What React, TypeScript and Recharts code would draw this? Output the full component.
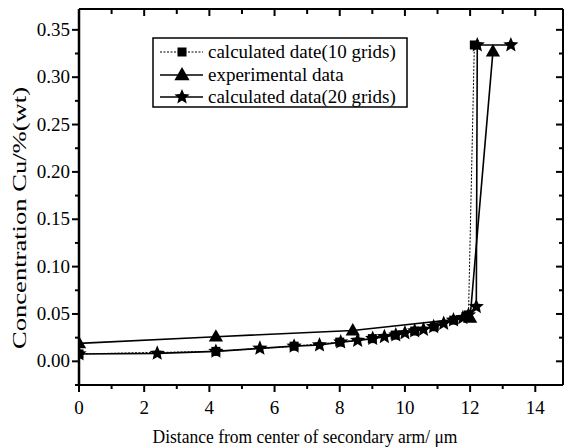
import React from 'react';
import { LineChart, Line, XAxis, YAxis, Legend } from 'recharts';

// calculated date (10 grids) - squares, dotted line
const grid10X = [0, 4.2, 6.6, 8.0, 9.0, 9.7, 10.3, 10.9, 11.5, 11.95, 12.13];
const grid10Y = [0.0078, 0.0105, 0.016, 0.0203, 0.024, 0.0277, 0.032, 0.0365, 0.0435, 0.049, 0.334];

// experimental data - triangles
const expX = [0, 4.2, 8.4, 12.0, 12.7];
const expY = [0.019, 0.026, 0.0325, 0.046, 0.327];

// calculated data (20 grids) - stars
const grid20X = [0, 2.4, 4.2, 5.55, 6.6, 7.38, 8.03, 8.55, 9.01, 9.37, 9.72, 10.0, 10.3, 10.57, 10.88, 11.19, 11.49, 11.78, 11.95, 12.19, 12.22, 13.25];
const grid20Y = [0.0078, 0.0084, 0.0105, 0.0137, 0.016, 0.0172, 0.0203, 0.022, 0.024, 0.026, 0.0277, 0.030, 0.032, 0.0337, 0.0365, 0.040, 0.0435, 0.046, 0.049, 0.0577, 0.334, 0.334];

const xTicks = [0, 1, 2, 3, 4, 5, 6, 7, 8, 9, 10, 11, 12, 13, 14];
const xLabelTicks = [0, 2, 4, 6, 8, 10, 12, 14];
const yTicks = [-0.025, 0, 0.025, 0.05, 0.075, 0.1, 0.125, 0.15, 0.175, 0.2, 0.225, 0.25, 0.275, 0.3, 0.325, 0.35];
const yLabelTicks = [0, 0.05, 0.1, 0.15, 0.2, 0.25, 0.3, 0.35];

const seriesNames = ['calculated date(10 grids)', 'experimental data', 'calculated data(20 grids)'];

const zip = (xs: number[], ys: number[]) => xs.map((x, i) => ({ x, y: ys[i] }));
const data10 = zip(grid10X, grid10Y);
const dataExp = zip(expX, expY);
const data20 = zip(grid20X, grid20Y);

const FONT = "'Liberation Serif', 'DejaVu Serif', serif";

const isMajorX = (v: number) => xLabelTicks.some((t) => Math.abs(t - v) < 1e-6);
const isMajorY = (v: number) => yLabelTicks.some((t) => Math.abs(t - v) < 1e-6);

const BottomTick = (props: any) => {
  const { x, y, payload } = props;
  const major = isMajorX(payload.value);
  return (
    <g>
      <line x1={x} y1={y} x2={x} y2={y + (major ? 7 : 4)} stroke="#000" strokeWidth={2} />
      {major && (
        <text x={x} y={y + 29} textAnchor="middle" fontFamily={FONT} fontSize={19} fill="#000">
          {payload.value}
        </text>
      )}
    </g>
  );
};

const TopTick = (props: any) => {
  const { x, y, payload } = props;
  const major = isMajorX(payload.value);
  return <line x1={x} y1={y} x2={x} y2={y + (major ? 7 : 5)} stroke="#000" strokeWidth={2} />;
};

const LeftTick = (props: any) => {
  const { x, y, payload } = props;
  const major = isMajorY(payload.value);
  return (
    <g>
      <line x1={x} y1={y} x2={x - (major ? 7 : 4)} y2={y} stroke="#000" strokeWidth={2} />
      {major && (
        <text x={x - 9} y={y + 6} textAnchor="end" fontFamily={FONT} fontSize={19} fill="#000">
          {payload.value.toFixed(2)}
        </text>
      )}
    </g>
  );
};

const RightTick = (props: any) => {
  const { x, y, payload } = props;
  const major = isMajorY(payload.value);
  return <line x1={x} y1={y} x2={x - (major ? 7 : 4)} y2={y} stroke="#000" strokeWidth={2} />;
};

const starPath = (cx: number, cy: number, ro: number, ri: number) => {
  let d = '';
  for (let i = 0; i < 10; i++) {
    const r = i % 2 === 0 ? ro : ri;
    const a = -Math.PI / 2 + (i * Math.PI) / 5;
    d += (i === 0 ? 'M' : 'L') + (cx + r * Math.cos(a)).toFixed(2) + ',' + (cy + r * Math.sin(a)).toFixed(2);
  }
  return d + 'Z';
};

const Star = ({ cx, cy, size = 8 }: any) => <path d={starPath(cx, cy, size, size * 0.45)} fill="#000" />;
const Tri = ({ cx, cy, size = 7.5 }: any) => (
  <path d={`M${cx},${cy - size}L${cx + size * 0.95},${cy + size * 0.65}L${cx - size * 0.95},${cy + size * 0.65}Z`} fill="#000" />
);
const Sq = ({ cx, cy, size = 4.5 }: any) => <rect x={cx - size} y={cy - size} width={size * 2} height={size * 2} fill="#000" />;

const LegendBox = () => (
  <svg width={256} height={71} style={{ display: 'block' }}>
    <rect x={1} y={1} width={254} height={69} fill="#fff" stroke="#000" strokeWidth={1.5} />
    <line x1={8} y1={15} x2={51} y2={15} stroke="#000" strokeWidth={1} strokeDasharray="2 1.5" />
    <Sq cx={30} cy={15} />
    <text x={56} y={21} fontFamily={FONT} fontSize={19} fill="#000">{seriesNames[0]}</text>
    <line x1={8} y1={38} x2={51} y2={38} stroke="#000" strokeWidth={1.6} />
    <Tri cx={30} cy={38} size={8} />
    <text x={56} y={44} fontFamily={FONT} fontSize={19} fill="#000">{seriesNames[1]}</text>
    <line x1={8} y1={60} x2={51} y2={60} stroke="#000" strokeWidth={1.6} />
    <Star cx={30} cy={60} size={8} />
    <text x={56} y={66} fontFamily={FONT} fontSize={19} fill="#000">{seriesNames[2]}</text>
  </svg>
);

const YLabel = () => {
  const cx = 20;
  const cy = 218;
  return (
    <text
      x={cx}
      y={cy}
      transform={`rotate(-90, ${cx}, ${cy})`}
      textAnchor="middle"
      dominantBaseline="central"
      fontFamily={FONT}
      fontSize={18}
      textLength={262}
      lengthAdjust="spacingAndGlyphs"
      fill="#000"
    >
      Concentration Cu/%(wt)
    </text>
  );
};

const XLabel = () => (
  <text x={305} y={443} textAnchor="middle" fontFamily={FONT} fontSize={18} textLength={305} lengthAdjust="spacingAndGlyphs" fill="#000">
    Distance from center of secondary arm/ μm
  </text>
);

export default function App() {
  return (
    <div style={{ position: 'absolute', left: 0, top: 0, width: 566, height: 447, background: '#fff', fontFamily: FONT }}>
      <LineChart width={566} height={447} margin={{ top: 0, right: 0, bottom: 0, left: 0 }}>
        <XAxis
          xAxisId="b"
          type="number"
          dataKey="x"
          orientation="bottom"
          domain={[0, 14.85]}
          ticks={xTicks}
          interval={0}
          allowDataOverflow
          height={62}
          tickSize={0}
          tickMargin={0}
          tickLine={false}
          axisLine={{ stroke: '#000', strokeWidth: 2 }}
          tick={<BottomTick />}
          label={<XLabel />}
        />
        <XAxis
          xAxisId="t"
          type="number"
          dataKey="x"
          orientation="top"
          domain={[0, 14.85]}
          ticks={xTicks}
          interval={0}
          allowDataOverflow
          height={9}
          tickSize={0}
          tickMargin={0}
          tickLine={false}
          axisLine={{ stroke: '#000', strokeWidth: 2 }}
          tick={<TopTick />}
        />
        <YAxis
          yAxisId="l"
          type="number"
          orientation="left"
          domain={[-0.025, 0.372]}
          ticks={yTicks}
          interval={0}
          allowDataOverflow
          width={79}
          tickSize={0}
          tickMargin={0}
          tickLine={false}
          axisLine={{ stroke: '#000', strokeWidth: 2.5 }}
          tick={<LeftTick />}
          label={<YLabel />}
        />
        <YAxis
          yAxisId="r"
          type="number"
          orientation="right"
          domain={[-0.025, 0.372]}
          ticks={yTicks}
          interval={0}
          allowDataOverflow
          width={3}
          tickSize={0}
          tickMargin={0}
          tickLine={false}
          axisLine={{ stroke: '#000', strokeWidth: 2 }}
          tick={<RightTick />}
        />
        <Legend
          layout="vertical"
          align="center"
          verticalAlign="middle"
          content={() => <LegendBox />}
          wrapperStyle={{ left: 152, top: 37, width: 256, height: 71 }}
        />
        <Line
          xAxisId="b"
          yAxisId="l"
          name={seriesNames[0]}
          data={data10}
          dataKey="y"
          type="linear"
          stroke="#000"
          strokeWidth={1}
          strokeDasharray="2 1.5"
          isAnimationActive={false}
          dot={(p: any) => <Sq key={`s${p.index}`} cx={p.cx} cy={p.cy} />}
          activeDot={false}
        />
        <Line
          xAxisId="b"
          yAxisId="l"
          name={seriesNames[1]}
          data={dataExp}
          dataKey="y"
          type="linear"
          stroke="#000"
          strokeWidth={1.6}
          isAnimationActive={false}
          dot={(p: any) => <Tri key={`t${p.index}`} cx={p.cx} cy={p.cy} />}
          activeDot={false}
        />
        <Line
          xAxisId="b"
          yAxisId="l"
          name={seriesNames[2]}
          data={data20}
          dataKey="y"
          type="linear"
          stroke="#000"
          strokeWidth={1.6}
          isAnimationActive={false}
          dot={(p: any) => <Star key={`r${p.index}`} cx={p.cx} cy={p.cy} />}
          activeDot={false}
        />
      </LineChart>
    </div>
  );
}
